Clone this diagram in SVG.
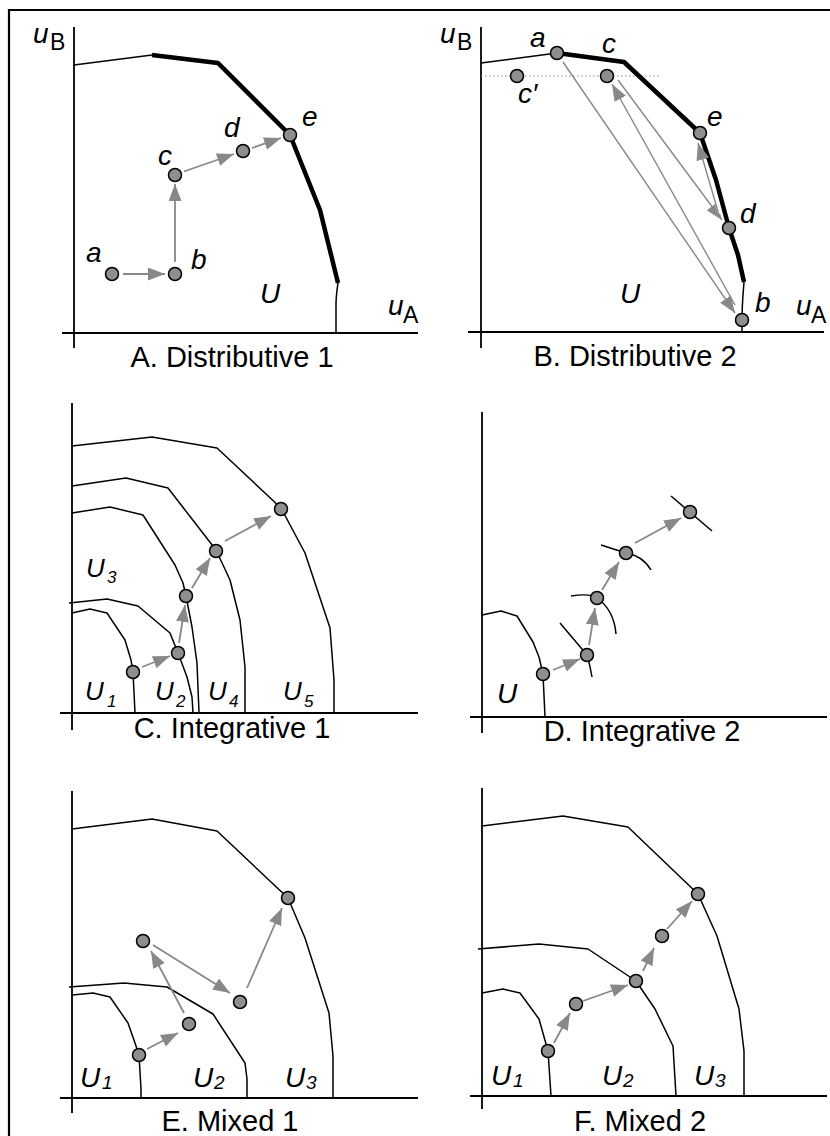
<svg xmlns="http://www.w3.org/2000/svg" width="830" height="1136" viewBox="0 0 830 1136">
<style>
.ax{stroke:#000;stroke-width:1.8;fill:none}
.cv{stroke:#000;stroke-width:1.5;fill:none;stroke-linejoin:round}
.th{stroke:#000;stroke-width:4.5;fill:none;stroke-linejoin:round}
.ar{stroke:#888;stroke-width:1.8;fill:none;marker-end:url(#ah)}
.arb{stroke:#888;stroke-width:1.4;fill:none;marker-end:url(#ah)}
.pt{fill:#8e8e8e;stroke:#000;stroke-width:1.5}
.lb{font-family:"Liberation Sans",Arial,sans-serif;font-style:italic;font-size:28px;fill:#000}
.ul{font-family:"Liberation Sans",Arial,sans-serif;font-style:italic;font-size:28px;fill:#000}
.us{font-family:"Liberation Sans",Arial,sans-serif;font-style:italic;font-size:19px;fill:#000}
.sb{font-family:"Liberation Sans",Arial,sans-serif;font-size:23px;fill:#000}
.cap{font-family:"Liberation Sans",Arial,sans-serif;font-size:29px;fill:#000;text-anchor:middle}
</style>
<defs>
<marker id="ah" viewBox="0 0 17 13" markerWidth="17" markerHeight="13" refX="17" refY="6.5" orient="auto" markerUnits="userSpaceOnUse">
<path d="M0,0 L17,6.5 L0,13 z" fill="#888"/>
</marker>
</defs>
<rect width="830" height="1136" fill="#fff"/>
<path d="M9,1136 L9,10 L830,10" fill="none" stroke="#000" stroke-width="2.2"/>

<!-- Panel A -->
<g id="panelA">
<line class="ax" x1="74" y1="27" x2="74" y2="348"/>
<line class="ax" x1="62" y1="333" x2="418" y2="333"/>
<path class="cv" d="M74,65 L152,55"/>
<path class="th" d="M152,55 L218,63 L290,135 L320,210 L338,283"/>
<path class="cv" d="M338,283 C337,290 336,296 336,305 L336,333"/>
<g id="A-connectors">
<line class="ar" x1="123" y1="274" x2="165" y2="274"/>
<line class="ar" x1="175" y1="262" x2="175" y2="184"/>
<line class="ar" x1="184" y1="171.5" x2="234" y2="154"/>
<line class="ar" x1="252" y1="148" x2="281" y2="138"/>
</g>
<g id="A-a"><circle class="pt" cx="112" cy="274" r="6.5"/><text class="lb" x="86" y="262">a</text></g>
<g id="A-b"><circle class="pt" cx="175" cy="274" r="6.5"/><text class="lb" x="191" y="269">b</text></g>
<g id="A-c"><circle class="pt" cx="175" cy="175" r="6.5"/><text class="lb" x="158" y="165">c</text></g>
<g id="A-d"><circle class="pt" cx="243" cy="151" r="6.5"/><text class="lb" x="224" y="137">d</text></g>
<g id="A-e"><circle class="pt" cx="290" cy="135" r="6.5"/><text class="lb" x="302" y="126">e</text></g>
<text class="ul" x="260" y="303">U</text>
<text class="lb" x="33" y="43">u</text><text class="sb" x="50" y="50">B</text>
<text class="lb" x="388" y="315">u</text><text class="sb" x="403" y="323">A</text>
<text class="cap" x="232" y="367">A. Distributive 1</text>
</g>

<!-- Panel B -->
<g id="panelB">
<line class="ax" x1="481" y1="27" x2="481" y2="348"/>
<line class="ax" x1="468" y1="332" x2="824" y2="332"/>
<line x1="481" y1="76" x2="660" y2="76" stroke="#888" stroke-width="1.2" stroke-dasharray="1.5,2.5"/>
<path class="cv" d="M481,63 L557,53"/>
<path class="th" d="M557,53 L624,62 L700,133 L716,180 L729,228 L738,255 L744,282"/>
<path class="cv" d="M744,282 C743,295 742,305 742,320 L742,332"/>
<g id="B-connectors">
<line class="arb" x1="563" y1="62" x2="735" y2="313"/>
<line class="arb" x1="735" y1="305" x2="612" y2="84"/>
<line class="arb" x1="618" y1="80" x2="722" y2="220"/>
<line x1="719.5" y1="214" x2="700" y2="150" stroke="#fff" stroke-width="3"/>
<line class="arb" x1="719" y1="215" x2="698" y2="143"/>
</g>
<g id="B-a"><circle class="pt" cx="557" cy="53" r="6.5"/><text class="lb" x="530" y="47">a</text></g>
<g id="B-c"><circle class="pt" cx="607" cy="76" r="6.5"/><text class="lb" x="602" y="53">c</text></g>
<g id="B-c2"><circle class="pt" cx="517" cy="76" r="6.5"/><text class="lb" x="518" y="103">c′</text></g>
<g id="B-e"><circle class="pt" cx="700" cy="133" r="6.5"/><text class="lb" x="707" y="126">e</text></g>
<g id="B-d"><circle class="pt" cx="729" cy="228" r="6.5"/><text class="lb" x="740" y="223">d</text></g>
<g id="B-b"><circle class="pt" cx="742" cy="320" r="6.5"/><text class="lb" x="755" y="312">b</text></g>
<text class="ul" x="620" y="303">U</text>
<text class="lb" x="440" y="43">u</text><text class="sb" x="457" y="50">B</text>
<text class="lb" x="796" y="315">u</text><text class="sb" x="811" y="323">A</text>
<text class="cap" x="635" y="366">B. Distributive 2</text>
</g>

<!-- Panel C -->
<g id="panelC">
<line class="ax" x1="72" y1="403" x2="72" y2="730"/>
<line class="ax" x1="60" y1="713" x2="418" y2="713"/>
<path class="cv" d="M72,446 L152,437 L217,448 L281,508 L305,553 L330,628 L334,680 L334,713"/>
<path class="cv" d="M72,486 L126,478 L168,488 L216,550 L230,580 L240,620 L245,667 L245,713"/>
<path class="cv" d="M72,513 L110,507 L143,515 L175,565 L183,583 L186,596 L192,627 L197,663 L199,713"/>
<path class="cv" d="M69,603 L107,599 L138,606 L170,633 L178,653 L187,677 L192,697 L193,713"/>
<path class="cv" d="M72,613 L90,609 L107,613 L125,640 L131,660 L133,672 L135,713"/>
<g id="C-connectors">
<line class="ar" x1="142" y1="667" x2="170" y2="656"/>
<line class="ar" x1="179" y1="643" x2="185" y2="605"/>
<line class="ar" x1="192" y1="588" x2="210" y2="558"/>
<line class="ar" x1="225" y1="541" x2="271" y2="516"/>
</g>
<g id="C-p1"><circle class="pt" cx="133" cy="672" r="6.5"/></g>
<g id="C-p2"><circle class="pt" cx="178" cy="653" r="6.5"/></g>
<g id="C-p3"><circle class="pt" cx="186" cy="596" r="6.5"/></g>
<g id="C-p4"><circle class="pt" cx="216" cy="551" r="6.5"/></g>
<g id="C-p5"><circle class="pt" cx="281" cy="509" r="6.5"/></g>
<text class="ul" x="85" y="700" style="font-size:26px">U</text><text class="us" x="107" y="707" style="font-size:17px">1</text>
<text class="ul" x="155" y="700" style="font-size:26px">U</text><text class="us" x="176" y="707" style="font-size:17px">2</text>
<text class="ul" x="208" y="700" style="font-size:26px">U</text><text class="us" x="229" y="707" style="font-size:17px">4</text>
<text class="ul" x="283" y="700" style="font-size:26px">U</text><text class="us" x="304" y="707" style="font-size:17px">5</text>
<text class="ul" x="86" y="577" style="font-size:26px">U</text><text class="us" x="107" y="583" style="font-size:17px">3</text>
<text class="cap" x="232" y="738">C. Integrative 1</text>
</g>

<!-- Panel D -->
<g id="panelD">
<line class="ax" x1="482" y1="412" x2="482" y2="733"/>
<line class="ax" x1="470" y1="717" x2="827" y2="717"/>
<path class="cv" d="M482,615 L501,611 L517,616 L533,642 L539,657 L543,674 L545,717"/>
<path class="cv" d="M560,623 L587,655 Q590,665 592,677"/>
<path class="cv" d="M571,596 Q590,593 597,598 Q614,610 616,634"/>
<path class="cv" d="M601,545 L626,553 Q643,556 651,570"/>
<path class="cv" d="M671,496 L712,531"/>
<g id="D-connectors">
<line class="ar" x1="553" y1="670" x2="580" y2="659"/>
<line class="ar" x1="589" y1="645" x2="595" y2="608"/>
<line class="ar" x1="602" y1="590" x2="619" y2="562"/>
<line class="ar" x1="635" y1="543" x2="681" y2="518"/>
</g>
<g id="D-p1"><circle class="pt" cx="543" cy="674" r="6.5"/></g>
<g id="D-p2"><circle class="pt" cx="587" cy="655" r="6.5"/></g>
<g id="D-p3"><circle class="pt" cx="597" cy="598" r="6.5"/></g>
<g id="D-p4"><circle class="pt" cx="626" cy="553" r="6.5"/></g>
<g id="D-p5"><circle class="pt" cx="690" cy="512" r="6.5"/></g>
<text class="ul" x="497" y="703">U</text>
<text class="cap" x="642" y="741">D. Integrative 2</text>
</g>

<!-- Panel E -->
<g id="panelE">
<line class="ax" x1="72" y1="791" x2="72" y2="1113"/>
<line class="ax" x1="60" y1="1098" x2="418" y2="1098"/>
<path class="cv" d="M72,829 L152,819 L217,831 L288,898 L305,938 L329,1013 L333,1056 L333,1098"/>
<path class="cv" d="M69,987 L124,983 L167,987 L213,1014 L245,1063 L247,1079 L247,1098"/>
<path class="cv" d="M72,995 L93,993 L110,997 L128,1023 L135,1043 L139,1055 L141,1089 L141,1098"/>
<g id="E-connectors">
<line class="ar" x1="147" y1="1049" x2="178" y2="1033"/>
<line class="ar" x1="184" y1="1013" x2="151" y2="951"/>
<line class="ar" x1="153" y1="945" x2="230" y2="993"/>
<line class="ar" x1="247" y1="988" x2="282" y2="908"/>
</g>
<g id="E-p1"><circle class="pt" cx="139" cy="1055" r="6.5"/></g>
<g id="E-p2"><circle class="pt" cx="189" cy="1024" r="6.5"/></g>
<g id="E-p3"><circle class="pt" cx="143" cy="941" r="6.5"/></g>
<g id="E-p4"><circle class="pt" cx="240" cy="1002" r="6.5"/></g>
<g id="E-p5"><circle class="pt" cx="288" cy="898" r="6.5"/></g>
<text class="ul" x="80" y="1087">U</text><text class="us" x="102" y="1089">1</text>
<text class="ul" x="193" y="1087">U</text><text class="us" x="214" y="1089">2</text>
<text class="ul" x="285" y="1087">U</text><text class="us" x="306" y="1089">3</text>
<text class="cap" x="230" y="1131">E. Mixed 1</text>
</g>

<!-- Panel F -->
<g id="panelF">
<line class="ax" x1="482" y1="788" x2="482" y2="1109"/>
<line class="ax" x1="470" y1="1096" x2="827" y2="1096"/>
<path class="cv" d="M482,826 L563,816 L628,827 L698,894 L717,936 L739,1009 L744,1051 L744,1096"/>
<path class="cv" d="M478,949 L539,944 L588,949 L636,981 L655,1009 L673,1046 L676,1096"/>
<path class="cv" d="M482,993 L503,989 L520,993 L539,1019 L548,1051 L551,1096"/>
<g id="F-connectors">
<line class="ar" x1="554" y1="1043" x2="570" y2="1013"/>
<line class="ar" x1="583" y1="1001" x2="628" y2="985"/>
<line class="ar" x1="643" y1="971" x2="654" y2="948"/>
<line class="ar" x1="667" y1="929" x2="692" y2="901"/>
</g>
<g id="F-p1"><circle class="pt" cx="548" cy="1051" r="6.5"/></g>
<g id="F-p2"><circle class="pt" cx="576" cy="1004" r="6.5"/></g>
<g id="F-p3"><circle class="pt" cx="636" cy="981" r="6.5"/></g>
<g id="F-p4"><circle class="pt" cx="662" cy="936" r="6.5"/></g>
<g id="F-p5"><circle class="pt" cx="698" cy="894" r="6.5"/></g>
<text class="ul" x="491" y="1085">U</text><text class="us" x="513" y="1087">1</text>
<text class="ul" x="602" y="1085">U</text><text class="us" x="623" y="1087">2</text>
<text class="ul" x="694" y="1085">U</text><text class="us" x="715" y="1087">3</text>
<text class="cap" x="640" y="1131">F. Mixed 2</text>
</g>
</svg>
